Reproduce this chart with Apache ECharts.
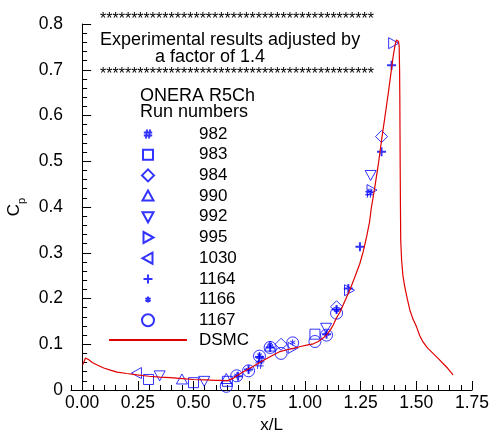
<!DOCTYPE html>
<html>
<head>
<meta charset="utf-8">
<script src="https://cdn.jsdelivr.net/npm/echarts@6/dist/echarts.min.js"></script>
<style>
  html, body { margin: 0; padding: 0; background: #fff; }
  #chart { width: 492px; height: 430px; }
</style>
</head>
<body>
<div id="chart"></div>
<script>
// DSMC curve, [x/L, Cp]
const dsmc = [
  [0.003, 0.055], [0.015, 0.070], [0.03, 0.066], [0.045, 0.060], [0.07, 0.054],
  [0.097, 0.048], [0.13, 0.043], [0.157, 0.039], [0.2, 0.036], [0.246, 0.033],
  [0.3, 0.030], [0.35, 0.028], [0.396, 0.027], [0.45, 0.025], [0.5, 0.023],
  [0.55, 0.022], [0.6, 0.021], [0.62, 0.021], [0.65, 0.020], [0.68, 0.026],
  [0.70, 0.033], [0.724, 0.040], [0.75, 0.047], [0.769, 0.052], [0.80, 0.061],
  [0.829, 0.069], [0.86, 0.077], [0.888, 0.084], [0.92, 0.088], [0.948, 0.091],
  [0.98, 0.095], [1.008, 0.098], [1.038, 0.101], [1.06, 0.106], [1.083, 0.114],
  [1.10, 0.122], [1.115, 0.132], [1.127, 0.142], [1.142, 0.158], [1.157, 0.170],
  [1.18, 0.195], [1.202, 0.219], [1.225, 0.248], [1.247, 0.277], [1.262, 0.303],
  [1.277, 0.335], [1.29, 0.367], [1.299, 0.401], [1.314, 0.444], [1.33, 0.495],
  [1.344, 0.546], [1.36, 0.600], [1.374, 0.648], [1.386, 0.692], [1.396, 0.729],
  [1.405, 0.755], [1.411, 0.765], [1.416, 0.767], [1.420, 0.762], [1.423, 0.752],
  [1.425, 0.70], [1.426, 0.641], [1.427, 0.55], [1.428, 0.46], [1.429, 0.39],
  [1.430, 0.328], [1.434, 0.284], [1.44, 0.25], [1.448, 0.226], [1.46, 0.198],
  [1.471, 0.175], [1.485, 0.155], [1.501, 0.138], [1.516, 0.118], [1.53, 0.105],
  [1.55, 0.092], [1.575, 0.080], [1.60, 0.068], [1.62, 0.058], [1.64, 0.048],
  [1.665, 0.033]
];

// experimental runs (already scaled by 1.4)
const run982 = [[0.796, 0.056], [0.80, 0.066], [1.289, 0.430]];
const run983 = [[0.298, 0.023], [0.50, 0.016], [0.652, 0.019], [1.045, 0.122]];
const run984 = [[0.893, 0.100], [1.142, 0.182], [1.344, 0.554]];
const run990 = [[0.448, 0.023], [0.647, 0.024], [0.844, 0.095]];
const run992 = [[0.348, 0.032], [0.548, 0.020], [1.095, 0.136], [1.295, 0.470]];
const run995 = [[0.945, 0.092], [1.198, 0.218], [1.299, 0.437], [1.396, 0.758]];
const run1030 = [[0.246, 0.037]];
const run1164 = [[0.70, 0.030], [0.747, 0.045], [0.796, 0.072], [0.844, 0.093], [1.097, 0.122],
  [1.142, 0.176], [1.195, 0.222], [1.247, 0.313], [1.344, 0.521], [1.389, 0.710]];
const run1166 = [[0.694, 0.032], [0.747, 0.044], [0.796, 0.076], [0.844, 0.096], [0.945, 0.104],
  [1.097, 0.122], [1.142, 0.174], [1.292, 0.434]];
const run1167 = [[0.647, 0.008], [0.694, 0.031], [0.747, 0.042], [0.796, 0.074], [0.844, 0.093],
  [0.893, 0.080], [0.945, 0.103], [1.045, 0.106], [1.097, 0.120], [1.142, 0.168]];

const xTicks = [0, 0.25, 0.5, 0.75, 1.0, 1.25, 1.5, 1.75];

const BLUE = '#0000ff';
const RED = '#e00000';
const FONT = '"Liberation Sans", Arial, sans-serif';
const PAD = 'M0,0M14,14';

const sym = {
  hash: 'path://' + PAD + 'M6,2.5L5,11.5M9,2.5L8,11.5M2.8,5.5H11.2M2.8,8.5H11.2',
  square: 'path://' + PAD + 'M2,2H12V12H2Z',
  diamond: 'path://' + PAD + 'M7,1L13,7L7,13L1,7Z',
  up: 'path://' + PAD + 'M7,1.5L12.5,11.5H1.5Z',
  down: 'path://' + PAD + 'M1.5,2.5H12.5L7,12.5Z',
  right: 'path://' + PAD + 'M2.5,1.5L12.5,7L2.5,12.5Z',
  left: 'path://' + PAD + 'M11.5,1.5L1.5,7L11.5,12.5Z',
  plus: 'path://' + PAD + 'M7,2.5V11.5M2.5,7H11.5',
  star: 'path://' + PAD + 'M7,4V10M4.4,5.5L9.6,8.5M4.4,8.5L9.6,5.5',
  circle: 'path://' + PAD + 'M1,7A6,6,0,1,1,13,7A6,6,0,1,1,1,7Z'
};

function runSeries(name, data, symbol, width) {
  return {
    name: name,
    type: 'scatter',
    data: data,
    symbol: symbol,
    symbolSize: 14,
    itemStyle: { color: 'none', borderColor: BLUE, borderWidth: width || 1 },
    emphasis: { disabled: true }
  };
}

const chart = echarts.init(document.getElementById('chart'));
const stars = '*'.repeat(44);

chart.setOption({
  animation: false,
  backgroundColor: '#fff',
  textStyle: { fontFamily: FONT },
  grid: { left: 71, right: 20, top: 24, bottom: 40, outerBoundsMode: 'none', containLabel: false },
  xAxis: [
    {
      type: 'value',
      min: -0.05,
      max: 1.75,
      position: 'bottom',
      name: 'x/L',
      nameLocation: 'middle',
      nameGap: 19,
      nameTextStyle: { fontSize: 17, color: '#000', fontFamily: FONT },
      axisLine: { lineStyle: { color: '#000', width: 1 } },
      axisTick: { inside: true, length: 9, customValues: xTicks, lineStyle: { color: '#000' } },
      axisLabel: {
        customValues: xTicks, margin: 4, fontSize: 17.5, color: '#000', fontFamily: FONT,
        formatter: v => v.toFixed(2)
      },
      splitLine: { show: false }
    },
    {
      type: 'value',
      min: -0.05,
      max: 1.75,
      interval: 0.05,
      position: 'bottom',
      axisLine: { show: false },
      axisTick: { inside: true, length: 5, lineStyle: { color: '#000' } },
      axisLabel: { show: false },
      splitLine: { show: false }
    }
  ],
  yAxis: {
    type: 'value',
    min: 0,
    max: 0.8,
    interval: 0.1,
    name: '{c|C}{p|p}',
    nameLocation: 'middle',
    nameGap: 48,
    nameTextStyle: {
      color: '#000',
      rich: {
        c: { fontSize: 17, lineHeight: 17, verticalAlign: 'top', fontFamily: FONT, color: '#000' },
        p: { fontSize: 11, lineHeight: 11, verticalAlign: 'top', padding: [10, 0, 0, 0], fontFamily: FONT, color: '#000' }
      }
    },
    axisLine: { show: true, lineStyle: { color: '#000', width: 1 } },
    axisTick: { show: true, inside: true, length: 9, lineStyle: { color: '#000' } },
    minorTick: { show: true, splitNumber: 5, length: 5, lineStyle: { color: '#000' } },
    axisLabel: {
      margin: 8, fontSize: 17.5, color: '#000', fontFamily: FONT,
      formatter: v => (v === 0 ? '0' : v.toFixed(1))
    },
    splitLine: { show: false }
  },
  legend: {
    orient: 'vertical',
    left: 108,
    top: 124.5,
    padding: 0,
    itemWidth: 78,
    itemHeight: 14,
    itemGap: 1.7,
    selectedMode: false,
    textStyle: { fontSize: 17, lineHeight: 17, color: '#000', fontFamily: FONT, padding: [0, 0, 0, 7] },
    data: ['982', '983', '984', '990', '992', '995', '1030', '1164', '1166', '1167', 'DSMC']
  },
  graphic: [
    { type: 'text', x: 100, y: 20, style: { text: stars, font: '16px ' + FONT, fill: '#000', verticalAlign: 'middle' } },
    { type: 'text', x: 100, y: 40, style: { text: 'Experimental results adjusted by', font: '18px ' + FONT, fill: '#000', verticalAlign: 'middle' } },
    { type: 'text', x: 155, y: 57, style: { text: 'a factor of 1.4', font: '18px ' + FONT, fill: '#000', verticalAlign: 'middle' } },
    { type: 'text', x: 100, y: 75, style: { text: stars, font: '16px ' + FONT, fill: '#000', verticalAlign: 'middle' } },
    { type: 'text', x: 140, y: 96, style: { text: 'ONERA R5Ch', font: '18px ' + FONT, fill: '#000', verticalAlign: 'middle' } },
    { type: 'text', x: 140, y: 112.5, style: { text: 'Run numbers', font: '18px ' + FONT, fill: '#000', verticalAlign: 'middle' } }
  ],
  series: [
    runSeries('982', run982, sym.hash),
    runSeries('983', run983, sym.square),
    runSeries('984', run984, sym.diamond),
    runSeries('990', run990, sym.up),
    runSeries('992', run992, sym.down),
    runSeries('995', run995, sym.right),
    runSeries('1030', run1030, sym.left),
    runSeries('1164', run1164, sym.plus, 2),
    runSeries('1166', run1166, sym.star),
    runSeries('1167', run1167, sym.circle),
    {
      name: 'DSMC',
      type: 'line',
      data: dsmc,
      symbol: 'none',
      lineStyle: { color: RED, width: 1.2 },
      itemStyle: { color: RED, opacity: 0 },
      emphasis: { disabled: true },
      z: 3
    }
  ]
});
</script>
</body>
</html>
